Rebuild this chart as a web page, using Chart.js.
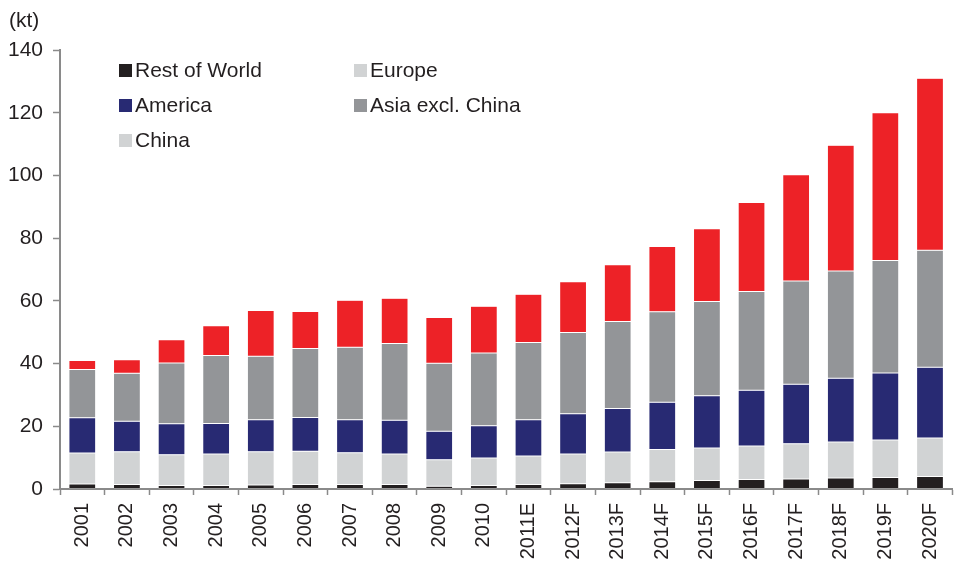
<!DOCTYPE html>
<html>
<head>
<meta charset="utf-8">
<script src="https://cdn.jsdelivr.net/npm/chart.js@4"></script>
<style>
  html, body { margin: 0; padding: 0; background: #fff; overflow: hidden; }
  #wrap { width: 962px; height: 565px; }
</style>
</head>
<body>
<div id="wrap"><canvas id="myChart"></canvas></div>
<script>
const years = ['2001', '2002', '2003', '2004', '2005', '2006', '2007', '2008', '2009', '2010',
  '2011E', '2012F', '2013F', '2014F', '2015F', '2016F', '2017F', '2018F', '2019F', '2020F'];

// kt per region
const restOfWorld = [1.6, 1.4, 1.1, 1.1, 1.3, 1.4, 1.4, 1.4, 0.9, 1.1, 1.4, 1.7, 2.0, 2.3, 2.7, 3.0, 3.2, 3.5, 3.7, 4.0];
const europe = [9.9, 10.5, 9.8, 10.1, 10.6, 10.6, 10.2, 9.8, 8.4, 8.8, 9.1, 9.5, 9.8, 10.3, 10.4, 10.7, 11.2, 11.5, 11.9, 12.3];
const america = [11.2, 9.7, 9.9, 9.7, 10.2, 10.8, 10.5, 10.7, 9.1, 10.3, 11.6, 12.8, 13.9, 15.1, 16.6, 17.8, 19.0, 20.3, 21.4, 22.5];
const asiaExChina = [15.4, 15.3, 19.4, 21.7, 20.2, 22.0, 23.1, 24.5, 21.7, 23.2, 24.6, 25.9, 27.7, 28.8, 30.1, 31.5, 32.9, 34.2, 35.9, 37.3];
const china = [2.9, 4.3, 7.4, 9.5, 14.6, 11.8, 15.0, 14.4, 14.6, 14.9, 15.4, 16.2, 18.1, 20.8, 23.2, 28.4, 33.9, 40.1, 47.1, 54.9];

const yTicks = [0, 20, 40, 60, 80, 100, 120, 140];

const FONT = 'Liberation Sans, Arial, Helvetica, sans-serif';
const INK = '#231f20';
const AXIS = '#8a8a8a';

const colors = {
  row: '#231f20',
  europe: '#d1d3d4',
  america: '#282a73',
  asia: '#939598',
  china: '#ed2227'
};

const makeSet = (label, data, color, swatch) => ({
  label: label,
  data: data,
  backgroundColor: color,
  borderColor: 'rgba(255,255,255,0.45)',
  borderWidth: 0.5,
  borderSkipped: false,
  swatch: swatch || color,
  barPercentage: 0.6,
  categoryPercentage: 1.0
});

// two-column legend, filled row by row, plus the unit label
const legendAndUnit = {
  id: 'legendAndUnit',
  afterDraw(chart) {
    const ctx = chart.ctx;
    ctx.save();
    ctx.font = '21px ' + FONT;
    ctx.fillStyle = INK;
    ctx.textBaseline = 'middle';
    ctx.textAlign = 'left';
    ctx.fillText('(kt)', 9, 21);

    const cols = [119, 354];
    chart.data.datasets.forEach((ds, i) => {
      const x = cols[i % 2];
      const y = 70.5 + Math.floor(i / 2) * 35;
      ctx.fillStyle = ds.swatch;
      ctx.fillRect(x, y - 6.5, 13, 13);
      ctx.fillStyle = INK;
      ctx.fillText(ds.label, x + 16, y + 1);
    });
    ctx.restore();
  }
};

const ctx = document.getElementById('myChart');

new Chart(ctx, {
  type: 'bar',
  data: {
    labels: years,
    datasets: [
      makeSet('Rest of World', restOfWorld, colors.row),
      makeSet('Europe', europe, colors.europe),
      makeSet('America', america, colors.america),
      makeSet('Asia excl. China', asiaExChina, colors.asia),
      makeSet('China', china, colors.china, colors.europe)
    ]
  },
  options: {
    responsive: true,
    maintainAspectRatio: false,
    animation: false,
    layout: { padding: { top: 50, left: 0, right: 0, bottom: 0 } },
    plugins: {
      legend: { display: false },
      tooltip: { enabled: false }
    },
    scales: {
      x: {
        stacked: true,
        afterFit: (scale) => { scale.height = 76; },
        border: { color: AXIS, width: 2 },
        grid: { drawOnChartArea: false, drawTicks: true, tickLength: 6, tickColor: AXIS, tickWidth: 1.5, offset: true },
        ticks: {
          color: INK,
          font: { family: FONT, size: 20 },
          maxRotation: 90,
          minRotation: 90,
          padding: 8,
          autoSkip: false
        }
      },
      y: {
        stacked: true,
        min: 0,
        max: 140,
        afterFit: (scale) => { scale.width = 60; },
        afterBuildTicks: (scale) => { scale.ticks = yTicks.map(v => ({ value: v })); },
        border: { color: AXIS, width: 2 },
        grid: { drawOnChartArea: false, drawTicks: true, tickLength: 7, tickColor: AXIS, tickWidth: 1.5 },
        ticks: {
          color: INK,
          font: { family: FONT, size: 21 },
          padding: 10
        }
      }
    }
  },
  plugins: [legendAndUnit]
});
</script>
</body>
</html>
